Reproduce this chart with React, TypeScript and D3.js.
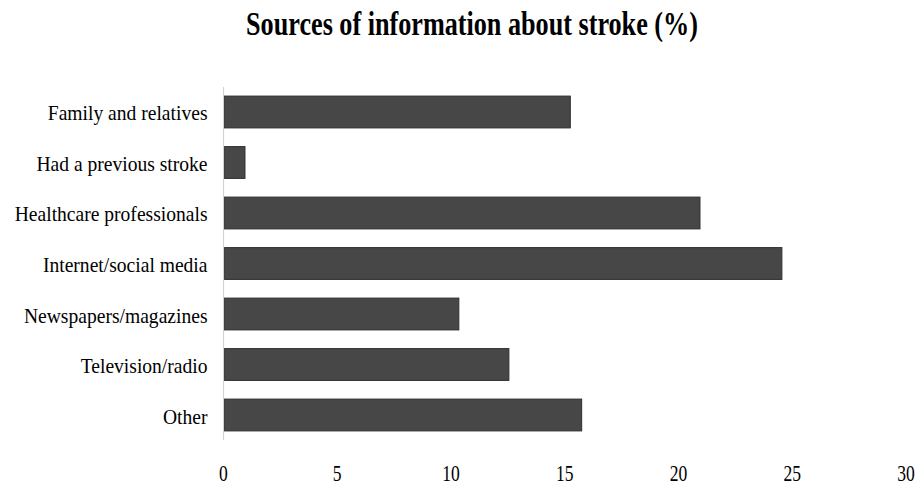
import React from "react";
import * as d3 from "d3";

const categories = [
  "Family and relatives",
  "Had a previous stroke",
  "Healthcare professionals",
  "Internet/social media",
  "Newspapers/magazines",
  "Television/radio",
  "Other",
];
const values = [15.2, 0.9, 20.9, 24.5, 10.3, 12.5, 15.7];
const xTicks = [0, 5, 10, 15, 20, 25, 30];
const title = "Sources of information about stroke (%)";

const W = 918;
const H = 486;
const margin = { left: 224.5, right: 11, top: 87, bottom: 46 };

export default function App() {
  const x = d3.scaleLinear().domain([0, 30]).range([margin.left, W - margin.right]);
  const y = d3
    .scaleBand<string>()
    .domain(categories)
    .range([margin.top, H - margin.bottom])
    .paddingInner(0.37)
    .paddingOuter(0.18);
  const font = "'Liberation Serif', 'Times New Roman', serif";
  return (
    <svg
      width={W}
      height={H}
      style={{ position: "absolute", left: 0, top: 0, background: "#fff" }}
    >
      <text
        transform={`translate(${W / 2 + 13},35) scale(0.77,1)`}
        textAnchor="middle"
        fontFamily={font}
        fontWeight="bold"
        fontSize={34}
        fill="#000"
      >
        {title}
      </text>
      {categories.map((c, i) => (
        <rect
          key={c}
          x={x(0)}
          y={y(c)!}
          width={x(values[i]) - x(0)}
          height={y.bandwidth()}
          fill="#474747"
          stroke="#2e2e2e"
          strokeWidth={1}
        />
      ))}
      <line
        x1={x(0) - 1}
        x2={x(0) - 1}
        y1={margin.top}
        y2={H - margin.bottom}
        stroke="#d4d4d4"
        strokeWidth={1.2}
      />
      {categories.map((c) => (
        <text
          key={c}
          transform={`translate(${x(0) - 17},${y(c)! + y.bandwidth() / 2 + 8.5}) scale(0.91,1)`}
          textAnchor="end"
          fontFamily={font}
          fontSize={21.5}
          fill="#000"
        >
          {c}
        </text>
      ))}
      {xTicks.map((t) => (
        <text
          key={t}
          transform={`translate(${x(t) - 1},${480.5}) scale(0.78,1)`}
          textAnchor="middle"
          fontFamily={font}
          fontSize={22.5}
          fill="#000"
        >
          {t}
        </text>
      ))}
    </svg>
  );
}
